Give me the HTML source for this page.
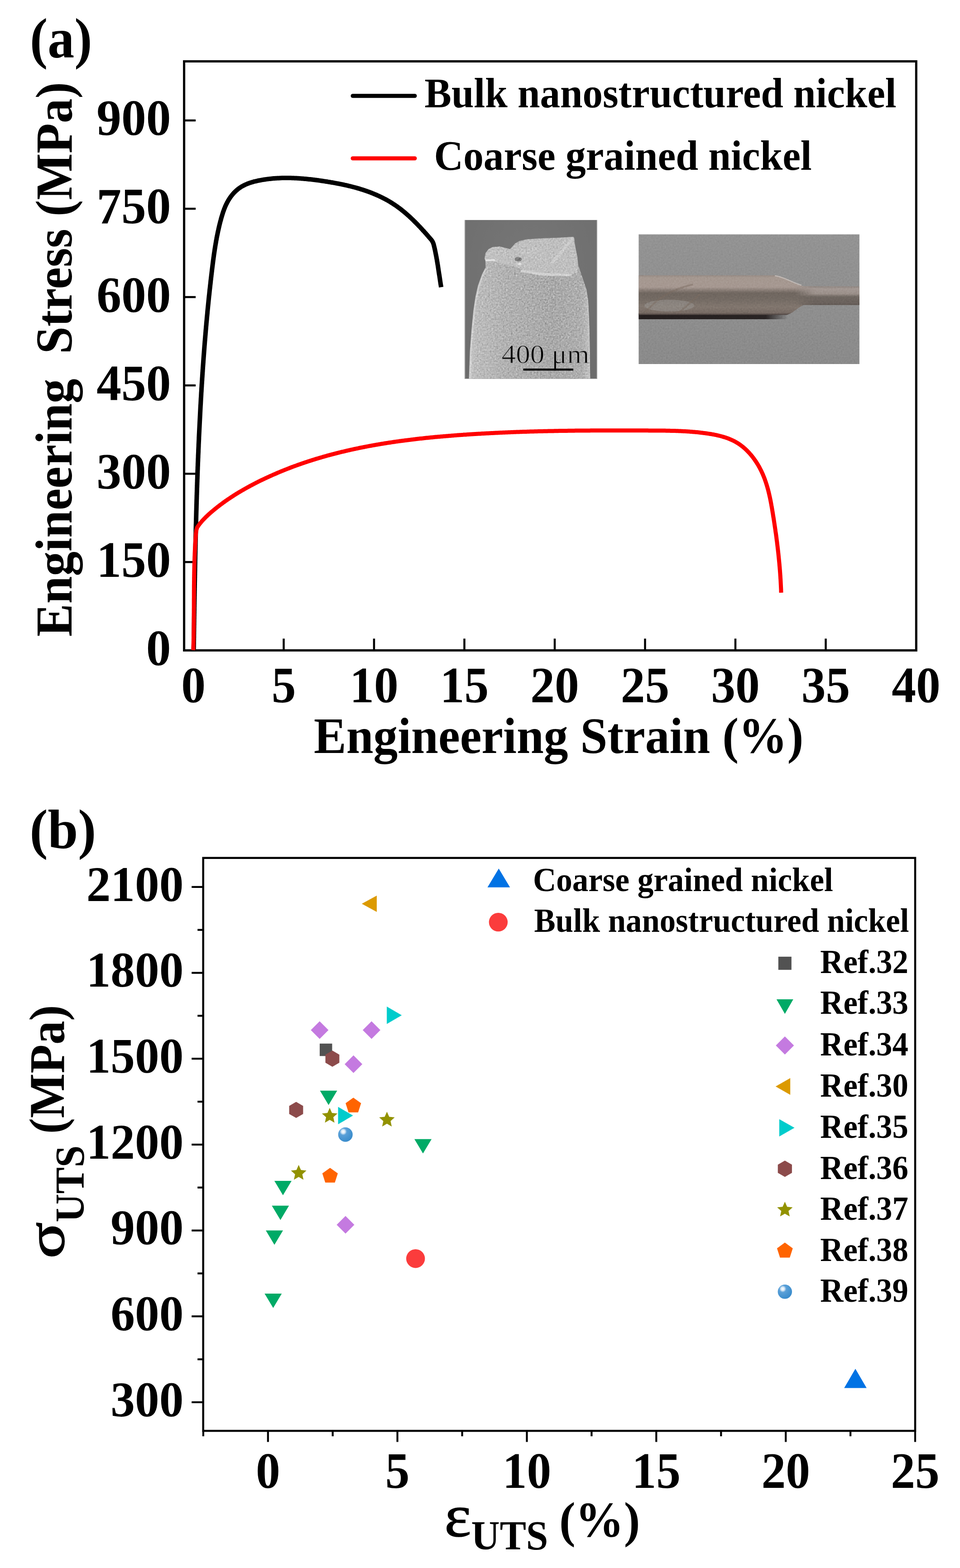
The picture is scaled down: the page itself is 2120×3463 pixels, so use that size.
<!DOCTYPE html>
<html><head><meta charset="utf-8"><title>Stress-strain of nanostructured nickel</title>
<style>html,body{margin:0;padding:0;background:#fff;}svg{display:block;}text{font-family:'Liberation Serif','Times New Roman',serif;}</style>
</head><body>
<svg width="2120" height="3463" viewBox="0 0 2120 3463">
<rect width="2120" height="3463" fill="#fff"/>
<text transform="translate(66.10,126.90) scale(0.95,1)" font-size="124" font-weight="bold" fill="#000">(a)</text>
<defs>
<linearGradient id="semBody" x1="0" y1="0" x2="1" y2="0">
<stop offset="0" stop-color="#cacaca"/><stop offset="0.05" stop-color="#bdbdbd"/><stop offset="0.3" stop-color="#b2b2b2"/><stop offset="0.7" stop-color="#a9a9a9"/><stop offset="0.93" stop-color="#afafaf"/><stop offset="1" stop-color="#c2c2c2"/>
</linearGradient>
<filter id="noise" x="0" y="0" width="1" height="1" filterUnits="objectBoundingBox" color-interpolation-filters="sRGB">
<feTurbulence type="fractalNoise" baseFrequency="0.28" numOctaves="2" seed="7" result="t"/>
<feColorMatrix in="t" type="matrix" values="0.33 0.33 0.33 0 0  0.33 0.33 0.33 0 0  0.33 0.33 0.33 0 0  0 0 0 0 1" result="g"/>
<feComponentTransfer in="g"><feFuncR type="linear" slope="2.2" intercept="-0.6"/><feFuncG type="linear" slope="2.2" intercept="-0.6"/><feFuncB type="linear" slope="2.2" intercept="-0.6"/></feComponentTransfer>
</filter>
<radialGradient id="semBg" cx="0.5" cy="0.3" r="0.8">
<stop offset="0" stop-color="#777777"/><stop offset="1" stop-color="#6c6c6c"/>
</radialGradient>
<linearGradient id="photoBg" x1="0" y1="0" x2="0" y2="1">
<stop offset="0" stop-color="#939393"/><stop offset="0.5" stop-color="#8f8f8f"/><stop offset="1" stop-color="#8a8a8a"/>
</linearGradient>
<linearGradient id="rodThick" gradientUnits="userSpaceOnUse" x1="0" y1="607.9" x2="0" y2="695.4">
<stop offset="0" stop-color="#968a83"/><stop offset="0.06" stop-color="#a59890"/><stop offset="0.3" stop-color="#a69891"/><stop offset="0.37" stop-color="#8b7f78"/><stop offset="0.45" stop-color="#6f665f"/><stop offset="0.6" stop-color="#736a63"/><stop offset="0.8" stop-color="#81766e"/><stop offset="0.95" stop-color="#776b64"/><stop offset="1" stop-color="#4a403d"/>
</linearGradient>
<linearGradient id="rodThin" gradientUnits="userSpaceOnUse" x1="0" y1="632.7" x2="0" y2="673.5">
<stop offset="0" stop-color="#8d847f"/><stop offset="0.12" stop-color="#a39893"/><stop offset="0.4" stop-color="#9b908a"/><stop offset="0.55" stop-color="#6f6761"/><stop offset="0.9" stop-color="#6a615c"/><stop offset="1" stop-color="#5e5651"/>
</linearGradient>
<linearGradient id="thinFade" gradientUnits="userSpaceOnUse" x1="1755" y1="0" x2="1800" y2="0">
<stop offset="0" stop-color="#fff" stop-opacity="0"/><stop offset="1" stop-color="#fff" stop-opacity="1"/>
</linearGradient>
<mask id="thinMask" maskUnits="userSpaceOnUse" x="1740" y="620" width="170" height="70"><rect x="1740" y="620" width="170" height="70" fill="url(#thinFade)"/></mask>
<linearGradient id="shadowG" x1="0" y1="0" x2="1" y2="0">
<stop offset="0" stop-color="#1e1818" stop-opacity="0.95"/><stop offset="0.85" stop-color="#1e1818" stop-opacity="0.9"/><stop offset="1" stop-color="#1e1818" stop-opacity="0"/>
</linearGradient>
<radialGradient id="sphere" cx="0.35" cy="0.3" r="0.7">
<stop offset="0" stop-color="#ffffff"/><stop offset="0.18" stop-color="#d8e8f6"/><stop offset="0.35" stop-color="#5aa0d8"/><stop offset="1" stop-color="#3a8ccc"/>
</radialGradient>
</defs>
<rect x="1025.9" y="485.9" width="293.1" height="350.6" fill="url(#semBg)"/>
<path d="M1036.1,836.5 L1038.3,775.7 L1041.7,730.6 L1046.2,685.5 L1050.7,656.2 L1056.4,631.4 L1065.4,606.6 L1072.2,593 L1072.2,577.2 L1069.9,570.5 L1072.2,559.2 L1078.9,550.2 L1087.9,545.7 L1103.7,544.6 L1112.7,546.8 L1126.3,550.2 L1133,545.7 L1137.5,537.8 L1146.6,532.2 L1162.3,528.8 L1180.4,527.2 L1202.9,525.8 L1225.5,525.4 L1248,524.3 L1266.1,523.1 L1268.3,525.4 L1270.6,545.7 L1275.1,568.2 L1277.3,586.3 L1284.1,606.6 L1290.9,626.9 L1295.4,640.4 L1298.8,662.9 L1301,708 L1302.1,753.1 L1303.3,836.5 Z" fill="url(#semBody)"/>
<path d="M1072,575 L1072.2,559.2 L1078.9,550.2 L1087.9,545.7 L1103.7,544.6 L1126.3,550.2 L1137.5,537.8 L1162.3,528.8 L1225.5,525.4 L1266.1,523.1 L1270.6,545.7 L1275.1,568.2 L1277,600 L1262,607 L1210,605 L1160,598 L1135,588 L1100,580 Z" fill="#c3c3c3" opacity="0.85"/>
<path d="M1264,524 L1268,527 L1222,582 L1215,580 Z" fill="#d2d2d2" opacity="0.75"/>
<path d="M1150,596 L1200,603 L1262,605 L1262,610 L1200,609 L1150,601 Z" fill="#d8d8d8" opacity="0.85"/>
<path d="M1140,560 L1180,545 L1200,548 L1170,565 Z" fill="#c4c4c4" opacity="0.6"/>
<ellipse cx="1144.5" cy="572.5" rx="8" ry="5" fill="#7c7c7c"/>
<ellipse cx="1147" cy="583" rx="5" ry="2" fill="#e6e6e6"/>
<path d="M1072,573 L1092,572.5 L1095,576 L1072,577 Z" fill="#e4e4e4"/>
<path d="M1037.5,836 L1039.6,775.7 L1043,730.6 L1047.4,685.5 L1051.8,656.2 L1057.4,631.4 L1066.3,606.6 L1073.2,593" fill="none" stroke="#d4d4d4" stroke-width="4" opacity="0.8"/>
<path d="M1301.8,836 L1300.8,753.1 L1299.6,708 L1297.4,662.9" fill="none" stroke="#c8c8c8" stroke-width="3" opacity="0.7"/>
<clipPath id="semClip"><path d="M1036.1,836.5 L1038.3,775.7 L1041.7,730.6 L1046.2,685.5 L1050.7,656.2 L1056.4,631.4 L1065.4,606.6 L1072.2,593 L1072.2,577.2 L1069.9,570.5 L1072.2,559.2 L1078.9,550.2 L1087.9,545.7 L1103.7,544.6 L1112.7,546.8 L1126.3,550.2 L1133,545.7 L1137.5,537.8 L1146.6,532.2 L1162.3,528.8 L1180.4,527.2 L1202.9,525.8 L1225.5,525.4 L1248,524.3 L1266.1,523.1 L1268.3,525.4 L1270.6,545.7 L1275.1,568.2 L1277.3,586.3 L1284.1,606.6 L1290.9,626.9 L1295.4,640.4 L1298.8,662.9 L1301,708 L1302.1,753.1 L1303.3,836.5 Z"/></clipPath>
<rect x="1030" y="515" width="280" height="325" filter="url(#noise)" clip-path="url(#semClip)" opacity="0.42" style="mix-blend-mode:overlay"/>
<line x1="1026.8" y1="486" x2="1026.8" y2="836.5" stroke="#a4a4a4" stroke-width="1.6"/><line x1="1318.2" y1="486" x2="1318.2" y2="836.5" stroke="#a4a4a4" stroke-width="1.6"/>
<text transform="translate(1107.50,801.60) scale(1.08,1)" font-size="58.6" font-weight="normal" fill="#000" stroke="#adadad" stroke-width="1.3">400 μm</text>
<line x1="1155.6" y1="816.3" x2="1266" y2="816.3" stroke="#000" stroke-width="4.5"/>
<rect x="1410.4" y="517.6" width="487.5" height="286.4" fill="url(#photoBg)"/>
<rect x="1410.4" y="692" width="330" height="13" fill="url(#shadowG)"/>
<path d="M1410.4,607.9 L1711,607.9 C1735,610 1755,628 1775,632 L1897.9,632.7 L1897.9,673.5 L1775,673.5 C1760,680 1750,693 1737,695.4 L1410.4,695.4 Z" fill="url(#rodThick)"/>
<path d="M1750,632.2 L1897.9,632.7 L1897.9,673.5 L1750,673.5 Z" fill="url(#rodThin)" mask="url(#thinMask)"/>
<path d="M1711,609 C1730,611 1745,622 1770,630" stroke="#c8c2be" stroke-width="2.5" fill="none" opacity="0.8"/>
<ellipse cx="1478" cy="675" rx="55" ry="13" fill="#98938f" opacity="0.55"/>
<path d="M1425,690 C1450,660 1480,640 1530,628 M1500,690 C1520,672 1535,660 1545,650" stroke="#7a6a60" stroke-width="4" fill="none" opacity="0.45"/>
<rect x="1410.4" y="517.6" width="487.5" height="286.4" filter="url(#noise)" opacity="0.07" style="mix-blend-mode:overlay"/>
<rect x="406.6" y="135.5" width="1616.7" height="1300.9" fill="none" stroke="#000" stroke-width="5"/>
<line x1="406.6" y1="1241.3" x2="432.1" y2="1241.3" stroke="#000" stroke-width="4.5"/>
<line x1="406.6" y1="1046.3" x2="432.1" y2="1046.3" stroke="#000" stroke-width="4.5"/>
<line x1="406.6" y1="851.2" x2="432.1" y2="851.2" stroke="#000" stroke-width="4.5"/>
<line x1="406.6" y1="656.1" x2="432.1" y2="656.1" stroke="#000" stroke-width="4.5"/>
<line x1="406.6" y1="461.0" x2="432.1" y2="461.0" stroke="#000" stroke-width="4.5"/>
<line x1="406.6" y1="266.0" x2="432.1" y2="266.0" stroke="#000" stroke-width="4.5"/>
<text transform="translate(377.40,1468.80) scale(0.977,1)" font-size="112" font-weight="bold" text-anchor="end" fill="#000">0</text>
<text transform="translate(377.40,1273.73) scale(0.977,1)" font-size="112" font-weight="bold" text-anchor="end" fill="#000">150</text>
<text transform="translate(377.40,1078.66) scale(0.977,1)" font-size="112" font-weight="bold" text-anchor="end" fill="#000">300</text>
<text transform="translate(377.40,883.59) scale(0.977,1)" font-size="112" font-weight="bold" text-anchor="end" fill="#000">450</text>
<text transform="translate(377.40,688.52) scale(0.977,1)" font-size="112" font-weight="bold" text-anchor="end" fill="#000">600</text>
<text transform="translate(377.40,493.45) scale(0.977,1)" font-size="112" font-weight="bold" text-anchor="end" fill="#000">750</text>
<text transform="translate(377.40,298.38) scale(0.977,1)" font-size="112" font-weight="bold" text-anchor="end" fill="#000">900</text>
<text transform="translate(427.00,1550.70) scale(0.96,1)" font-size="112" font-weight="bold" text-anchor="middle" fill="#000">0</text>
<line x1="626.5" y1="1436.4" x2="626.5" y2="1410.4" stroke="#000" stroke-width="4.5"/>
<text transform="translate(626.50,1550.70) scale(0.96,1)" font-size="112" font-weight="bold" text-anchor="middle" fill="#000">5</text>
<line x1="826.0" y1="1436.4" x2="826.0" y2="1410.4" stroke="#000" stroke-width="4.5"/>
<text transform="translate(826.00,1550.70) scale(0.96,1)" font-size="112" font-weight="bold" text-anchor="middle" fill="#000">10</text>
<line x1="1025.5" y1="1436.4" x2="1025.5" y2="1410.4" stroke="#000" stroke-width="4.5"/>
<text transform="translate(1025.50,1550.70) scale(0.96,1)" font-size="112" font-weight="bold" text-anchor="middle" fill="#000">15</text>
<line x1="1225.0" y1="1436.4" x2="1225.0" y2="1410.4" stroke="#000" stroke-width="4.5"/>
<text transform="translate(1225.00,1550.70) scale(0.96,1)" font-size="112" font-weight="bold" text-anchor="middle" fill="#000">20</text>
<line x1="1424.5" y1="1436.4" x2="1424.5" y2="1410.4" stroke="#000" stroke-width="4.5"/>
<text transform="translate(1424.50,1550.70) scale(0.96,1)" font-size="112" font-weight="bold" text-anchor="middle" fill="#000">25</text>
<line x1="1624.0" y1="1436.4" x2="1624.0" y2="1410.4" stroke="#000" stroke-width="4.5"/>
<text transform="translate(1624.00,1550.70) scale(0.96,1)" font-size="112" font-weight="bold" text-anchor="middle" fill="#000">30</text>
<line x1="1823.5" y1="1436.4" x2="1823.5" y2="1410.4" stroke="#000" stroke-width="4.5"/>
<text transform="translate(1823.50,1550.70) scale(0.96,1)" font-size="112" font-weight="bold" text-anchor="middle" fill="#000">35</text>
<text transform="translate(2023.00,1550.70) scale(0.96,1)" font-size="112" font-weight="bold" text-anchor="middle" fill="#000">40</text>
<text transform="translate(692.90,1662.50) scale(0.9493,1)" font-size="113.3" font-weight="bold" fill="#000">Engineering Strain (%)</text>
<text transform="translate(157.50,1405.90) rotate(-90) scale(0.95,1)" font-size="114.8" font-weight="bold" fill="#000" style="white-space:pre">Engineering  Stress (MPa)</text>
<line x1="779" y1="211.7" x2="916" y2="211.7" stroke="#000" stroke-width="9" stroke-linecap="round"/>
<line x1="779" y1="349.7" x2="916" y2="349.7" stroke="#ff0000" stroke-width="9" stroke-linecap="round"/>
<text transform="translate(937.60,236.70) scale(0.952,1)" font-size="93.5" font-weight="bold" fill="#000">Bulk nanostructured nickel</text>
<text transform="translate(958.60,375.00) scale(0.956,1)" font-size="93.5" font-weight="bold" fill="#000">Coarse grained nickel</text>
<path d="M427.8,1436.0 L427.8,1434.0 L427.8,1432.0 L427.8,1430.0 L427.9,1428.0 L427.9,1426.0 L427.9,1424.0 L428.0,1422.0 L428.0,1420.0 L428.0,1418.0 L428.0,1416.0 L428.1,1414.0 L428.1,1412.0 L428.1,1409.9 L428.2,1407.9 L428.2,1405.9 L428.2,1403.9 L428.2,1401.9 L428.3,1399.9 L428.3,1397.9 L428.3,1395.9 L428.4,1393.9 L428.4,1391.9 L428.4,1389.9 L428.4,1387.9 L428.5,1385.9 L428.5,1383.9 L428.5,1381.9 L428.6,1379.9 L428.6,1377.8 L428.6,1375.8 L428.7,1373.8 L428.7,1371.8 L428.7,1369.8 L428.7,1367.8 L428.8,1365.8 L428.8,1363.8 L428.8,1361.8 L428.9,1359.8 L428.9,1357.8 L428.9,1355.8 L429.0,1353.8 L429.0,1351.8 L429.0,1349.8 L429.1,1347.8 L429.1,1345.8 L429.1,1343.8 L429.1,1341.7 L429.2,1339.7 L429.2,1337.7 L429.2,1335.7 L429.3,1333.7 L429.3,1331.7 L429.3,1329.7 L429.4,1327.7 L429.4,1325.7 L429.4,1323.7 L429.5,1321.7 L429.5,1319.7 L429.5,1317.7 L429.6,1315.7 L429.6,1313.7 L429.6,1311.7 L429.7,1309.7 L429.7,1307.7 L429.7,1305.7 L429.8,1303.7 L429.8,1301.6 L429.8,1299.6 L429.9,1297.6 L429.9,1295.6 L429.9,1293.6 L430.0,1291.6 L430.0,1289.6 L430.0,1287.6 L430.1,1285.6 L430.1,1283.6 L430.2,1281.6 L430.2,1279.6 L430.2,1277.6 L430.3,1275.6 L430.3,1273.6 L430.3,1271.6 L430.4,1269.6 L430.4,1267.6 L430.4,1265.6 L430.5,1263.6 L430.5,1261.6 L430.6,1259.5 L430.6,1257.5 L430.6,1255.5 L430.7,1253.5 L430.7,1251.5 L430.7,1249.5 L430.8,1247.5 L430.8,1245.5 L430.9,1243.5 L430.9,1241.5 L430.9,1239.5 L431.0,1237.5 L431.0,1235.5 L431.1,1233.5 L431.1,1231.5 L431.1,1229.5 L431.2,1227.5 L431.2,1225.5 L431.3,1223.5 L431.3,1221.5 L431.4,1219.5 L431.4,1217.5 L431.4,1215.5 L431.5,1213.4 L431.5,1211.4 L431.6,1209.4 L431.6,1207.4 L431.7,1205.4 L431.7,1203.4 L431.7,1201.4 L431.8,1199.4 L431.8,1197.4 L431.9,1195.4 L431.9,1193.4 L432.0,1191.4 L432.0,1189.4 L432.1,1187.4 L432.1,1185.4 L432.2,1183.4 L432.2,1181.4 L432.3,1179.4 L432.3,1177.4 L432.4,1175.4 L432.4,1173.4 L432.4,1171.4 L432.5,1169.4 L432.5,1167.4 L432.6,1165.4 L432.6,1163.3 L432.7,1161.3 L432.7,1159.3 L432.8,1157.3 L432.9,1155.3 L432.9,1153.3 L433.0,1151.3 L433.0,1149.3 L433.1,1147.3 L433.1,1145.3 L433.2,1143.3 L433.2,1141.3 L433.3,1139.3 L433.3,1137.3 L433.4,1135.3 L433.4,1133.3 L433.5,1131.3 L433.5,1129.3 L433.6,1127.3 L433.7,1125.3 L433.7,1123.3 L433.8,1121.3 L433.8,1119.3 L433.9,1117.3 L433.9,1115.3 L434.0,1113.3 L434.1,1111.2 L434.1,1109.2 L434.2,1107.2 L434.2,1105.2 L434.3,1103.2 L434.4,1101.2 L434.4,1099.2 L434.5,1097.2 L434.5,1095.2 L434.6,1093.2 L434.7,1091.2 L434.7,1089.2 L434.8,1087.2 L434.9,1085.2 L434.9,1083.2 L435.0,1081.2 L435.0,1079.2 L435.1,1077.2 L435.2,1075.2 L435.2,1073.2 L435.3,1071.2 L435.4,1069.2 L435.4,1067.2 L435.5,1065.2 L435.6,1063.2 L435.6,1061.2 L435.7,1059.2 L435.8,1057.2 L435.9,1055.1 L435.9,1053.1 L436.0,1051.1 L436.1,1049.1 L436.1,1047.1 L436.2,1045.1 L436.3,1043.1 L436.3,1041.1 L436.4,1039.1 L436.5,1037.1 L436.6,1035.1 L436.6,1033.1 L436.7,1031.1 L436.8,1029.1 L436.9,1027.1 L436.9,1025.1 L437.0,1023.1 L437.1,1021.1 L437.2,1019.1 L437.3,1017.1 L437.3,1015.1 L437.4,1013.1 L437.5,1011.1 L437.6,1009.1 L437.6,1007.1 L437.7,1005.1 L437.8,1003.1 L437.9,1001.1 L438.0,999.1 L438.1,997.0 L438.1,995.0 L438.2,993.0 L438.3,991.0 L438.4,989.0 L438.5,987.0 L438.6,985.0 L438.6,983.0 L438.7,981.0 L438.8,979.0 L438.9,977.0 L439.0,975.0 L439.1,973.0 L439.2,971.0 L439.3,969.0 L439.3,967.0 L439.4,965.0 L439.5,963.0 L439.6,961.0 L439.7,959.0 L439.8,957.0 L439.9,955.0 L440.0,953.0 L440.1,951.0 L440.2,949.0 L440.3,947.0 L440.4,945.0 L440.5,943.0 L440.6,940.9 L440.7,938.9 L440.8,936.9 L440.9,934.9 L441.0,932.9 L441.1,930.9 L441.2,928.9 L441.3,926.9 L441.4,924.9 L441.5,922.9 L441.6,920.9 L441.7,918.9 L441.8,916.9 L441.9,914.9 L442.0,912.9 L442.1,910.9 L442.2,908.9 L442.3,906.9 L442.4,904.9 L442.5,902.9 L442.6,900.9 L442.7,898.9 L442.8,896.9 L442.9,894.9 L443.1,892.9 L443.2,890.9 L443.3,888.9 L443.4,886.9 L443.5,884.9 L443.6,882.8 L443.7,880.8 L443.8,878.8 L444.0,876.8 L444.1,874.8 L444.2,872.8 L444.3,870.8 L444.4,868.8 L444.5,866.8 L444.7,864.8 L444.8,862.8 L444.9,860.8 L445.0,858.8 L445.1,856.8 L445.3,854.8 L445.4,852.8 L445.5,850.8 L445.6,848.8 L445.8,846.8 L445.9,844.8 L446.0,842.8 L446.2,840.8 L446.3,838.8 L446.4,836.8 L446.5,834.8 L446.7,832.8 L446.8,830.8 L446.9,828.8 L447.1,826.8 L447.2,824.8 L447.3,822.8 L447.5,820.8 L447.6,818.8 L447.7,816.8 L447.9,814.8 L448.0,812.8 L448.1,810.8 L448.3,808.8 L448.4,806.8 L448.6,804.8 L448.7,802.8 L448.9,800.8 L449.0,798.8 L449.1,796.8 L449.3,794.8 L449.4,792.8 L449.6,790.8 L449.7,788.8 L449.9,786.8 L450.0,784.8 L450.2,782.8 L450.3,780.8 L450.5,778.8 L450.6,776.8 L450.8,774.8 L450.9,772.8 L451.1,770.8 L451.2,768.8 L451.4,766.8 L451.5,764.8 L451.7,762.8 L451.9,760.8 L452.0,758.8 L452.2,756.8 L452.3,754.8 L452.5,752.8 L452.7,750.8 L452.8,748.8 L453.0,746.8 L453.2,744.8 L453.3,742.8 L453.5,740.8 L453.7,738.8 L453.8,736.8 L454.0,734.8 L454.2,732.8 L454.3,730.8 L454.5,728.8 L454.7,726.8 L454.9,724.8 L455.0,722.8 L455.2,720.8 L455.4,718.8 L455.6,716.8 L455.7,714.8 L455.9,712.8 L456.1,710.8 L456.3,708.8 L456.5,706.8 L456.7,704.9 L456.8,702.9 L457.0,700.9 L457.2,698.9 L457.4,696.9 L457.6,694.9 L457.8,692.9 L458.0,690.9 L458.1,688.9 L458.3,686.9 L458.5,684.9 L458.7,682.9 L458.9,680.9 L459.1,678.9 L459.3,676.9 L459.5,674.9 L459.7,673.0 L459.9,671.0 L460.1,669.0 L460.3,667.0 L460.5,665.0 L460.7,663.0 L460.9,661.0 L461.1,659.0 L461.3,657.0 L461.5,655.0 L461.7,653.0 L462.0,651.1 L462.2,649.1 L462.4,647.1 L462.6,645.1 L462.8,643.1 L463.0,641.1 L463.2,639.1 L463.5,637.1 L463.7,635.1 L463.9,633.2 L464.1,631.2 L464.3,629.2 L464.6,627.2 L464.8,625.2 L465.0,623.2 L465.2,621.2 L465.4,619.2 L465.7,617.3 L465.9,615.3 L466.1,613.3 L466.4,611.3 L466.6,609.3 L466.8,607.3 L467.1,605.3 L467.3,603.4 L467.5,601.4 L467.8,599.4 L468.0,597.4 L468.2,595.4 L468.5,593.4 L468.7,591.5 L469.0,589.5 L469.2,587.5 L469.5,585.5 L469.7,583.5 L470.0,581.5 L470.2,579.6 L470.5,577.6 L470.7,575.6 L471.0,573.6 L471.3,571.6 L471.5,569.6 L471.8,567.7 L472.1,565.7 L472.3,563.7 L472.6,561.7 L472.9,559.7 L473.2,557.8 L473.5,555.8 L473.8,553.8 L474.1,551.8 L474.4,549.8 L474.7,547.9 L475.0,545.9 L475.3,543.9 L475.6,541.9 L476.0,539.9 L476.3,538.0 L476.7,536.0 L477.0,534.0 L477.3,532.0 L477.7,530.0 L478.1,528.1 L478.4,526.1 L478.8,524.1 L479.2,522.1 L479.6,520.1 L480.0,518.2 L480.4,516.2 L480.8,514.2 L481.2,512.2 L481.6,510.2 L482.1,508.3 L482.5,506.3 L483.0,504.3 L483.4,502.3 L483.9,500.3 L484.3,498.4 L484.8,496.4 L485.3,494.4 L485.8,492.4 L486.3,490.4 L486.8,488.4 L487.4,486.5 L487.9,484.5 L488.4,482.5 L489.0,480.5 L489.6,478.5 L490.2,476.6 L490.8,474.6 L491.4,472.6 L492.0,470.7 L492.6,468.7 L493.3,466.8 L494.0,464.9 L494.7,462.9 L495.4,461.0 L496.2,459.1 L496.9,457.3 L497.7,455.4 L498.5,453.6 L499.4,451.7 L500.3,449.9 L501.2,448.1 L502.1,446.4 L503.1,444.6 L504.0,442.9 L505.1,441.2 L506.1,439.5 L507.2,437.9 L508.3,436.2 L509.5,434.6 L510.6,433.1 L511.8,431.5 L513.1,430.0 L514.3,428.5 L515.6,427.1 L516.9,425.6 L518.3,424.2 L519.6,422.9 L521.0,421.6 L522.5,420.3 L523.9,419.0 L525.4,417.8 L527.0,416.6 L528.5,415.5 L530.1,414.4 L531.7,413.3 L533.3,412.3 L535.0,411.3 L536.7,410.4 L538.4,409.5 L540.1,408.6 L541.9,407.8 L543.7,407.0 L545.5,406.2 L547.3,405.5 L549.1,404.8 L551.0,404.1 L552.9,403.5 L554.8,402.9 L556.7,402.3 L558.6,401.8 L560.5,401.2 L562.5,400.7 L564.4,400.3 L566.4,399.8 L568.4,399.4 L570.3,398.9 L572.3,398.5 L574.3,398.2 L576.3,397.8 L578.3,397.4 L580.3,397.1 L582.2,396.8 L584.2,396.5 L586.2,396.2 L588.2,395.9 L590.2,395.6 L592.2,395.4 L594.2,395.1 L596.2,394.9 L598.2,394.7 L600.2,394.5 L602.2,394.3 L604.2,394.1 L606.2,394.0 L608.3,393.8 L610.3,393.7 L612.3,393.6 L614.3,393.5 L616.3,393.4 L618.3,393.3 L620.3,393.2 L622.3,393.1 L624.3,393.1 L626.4,393.0 L628.4,393.0 L630.4,393.0 L632.4,393.0 L634.4,393.0 L636.4,393.0 L638.5,393.0 L640.5,393.1 L642.5,393.1 L644.5,393.2 L646.5,393.2 L648.5,393.3 L650.6,393.4 L652.6,393.5 L654.6,393.6 L656.6,393.7 L658.6,393.8 L660.7,393.9 L662.7,394.1 L664.7,394.2 L666.7,394.4 L668.7,394.5 L670.7,394.7 L672.8,394.9 L674.8,395.1 L676.8,395.3 L678.8,395.5 L680.8,395.7 L682.8,395.9 L684.9,396.1 L686.9,396.3 L688.9,396.5 L690.9,396.8 L692.9,397.0 L694.9,397.3 L696.9,397.5 L698.9,397.8 L701.0,398.1 L703.0,398.3 L705.0,398.6 L707.0,398.9 L709.0,399.2 L711.0,399.5 L713.0,399.8 L715.0,400.1 L717.0,400.4 L719.0,400.7 L721.0,401.0 L723.0,401.3 L725.0,401.7 L727.0,402.0 L728.9,402.3 L730.9,402.7 L732.9,403.0 L734.9,403.3 L736.9,403.7 L738.9,404.1 L740.9,404.4 L742.8,404.8 L744.8,405.2 L746.8,405.5 L748.8,405.9 L750.7,406.3 L752.7,406.7 L754.7,407.1 L756.6,407.5 L758.6,407.9 L760.5,408.4 L762.5,408.8 L764.4,409.2 L766.4,409.7 L768.3,410.1 L770.3,410.6 L772.2,411.0 L774.2,411.5 L776.1,412.0 L778.0,412.5 L779.9,413.0 L781.9,413.5 L783.8,414.0 L785.7,414.5 L787.6,415.1 L789.5,415.6 L791.4,416.2 L793.3,416.7 L795.2,417.3 L797.1,417.9 L799.0,418.5 L800.9,419.1 L802.8,419.7 L804.6,420.3 L806.5,420.9 L808.4,421.6 L810.2,422.2 L812.1,422.9 L814.0,423.6 L815.8,424.2 L817.7,424.9 L819.5,425.6 L821.3,426.4 L823.2,427.1 L825.0,427.8 L826.8,428.6 L828.6,429.3 L830.4,430.1 L832.2,430.9 L834.0,431.7 L835.8,432.5 L837.6,433.3 L839.4,434.2 L841.2,435.0 L842.9,435.9 L844.7,436.8 L846.5,437.7 L848.2,438.6 L850.0,439.5 L851.7,440.4 L853.4,441.4 L855.2,442.3 L856.9,443.3 L858.6,444.3 L860.3,445.3 L862.0,446.3 L863.7,447.4 L865.4,448.4 L867.1,449.5 L868.8,450.6 L870.5,451.7 L872.1,452.8 L873.8,453.9 L875.4,455.0 L877.1,456.2 L878.7,457.4 L880.3,458.6 L882.0,459.8 L883.6,461.0 L885.2,462.2 L886.8,463.5 L888.4,464.8 L890.0,466.1 L891.5,467.3 L893.1,468.7 L894.7,470.0 L896.2,471.3 L897.8,472.7 L899.3,474.0 L900.9,475.4 L902.4,476.7 L903.9,478.1 L905.4,479.5 L906.9,480.9 L908.4,482.3 L909.9,483.8 L911.4,485.2 L912.9,486.6 L914.3,488.1 L915.8,489.5 L917.2,491.0 L918.7,492.4 L920.1,493.9 L921.5,495.3 L923.0,496.8 L924.4,498.3 L925.8,499.8 L927.2,501.2 L928.6,502.7 L929.9,504.2 L931.3,505.7 L932.7,507.2 L934.0,508.7 L935.4,510.1 L936.7,511.6 L938.0,513.1 L939.4,514.6 L940.7,516.1 L942.0,517.6 L943.3,519.0 L944.6,520.5 L945.9,522.0 L947.1,523.4 L948.4,524.9 L949.7,526.3 L950.9,527.8 L952.2,529.2 Q957.0,534.9 958.6,543.7 L958.6,543.7 L959.1,545.7 L959.6,547.7 L960.0,549.7 L960.5,551.7 L960.9,553.7 L961.3,555.7 L961.7,557.7 L962.1,559.7 L962.5,561.7 L962.9,563.7 L963.3,565.7 L963.7,567.7 L964.0,569.7 L964.4,571.7 L964.8,573.7 L965.1,575.7 L965.4,577.8 L965.8,579.8 L966.1,581.8 L966.4,583.8 L966.8,585.8 L967.1,587.8 L967.4,589.9 L967.7,591.9 L968.0,593.9 L968.3,595.9 L968.6,597.9 L968.9,600.0 L969.2,602.0 L969.5,604.0 L969.8,606.0 L970.2,608.1 L970.5,610.1 L970.8,612.1 L971.1,614.1 L971.4,616.1 L971.7,618.2 L972.0,620.2 L972.3,622.2 L972.6,624.2 L972.9,626.2 L973.2,628.2 L973.6,630.3 L973.9,632.3 L974.2,634.3" fill="none" stroke="#000" stroke-width="10" stroke-linejoin="round" stroke-linecap="butt"/>
<path d="M426.8,1436.0 L426.9,1434.0 L426.9,1431.9 L427.0,1429.9 L427.0,1427.9 L427.1,1425.9 L427.2,1423.8 L427.2,1421.8 L427.3,1419.8 L427.3,1417.8 L427.4,1415.7 L427.4,1413.7 L427.4,1411.7 L427.5,1409.7 L427.5,1407.6 L427.6,1405.6 L427.6,1403.6 L427.6,1401.6 L427.7,1399.5 L427.7,1397.5 L427.7,1395.5 L427.8,1393.4 L427.8,1391.4 L427.8,1389.4 L427.8,1387.4 L427.9,1385.3 L427.9,1383.3 L427.9,1381.3 L427.9,1379.3 L427.9,1377.2 L428.0,1375.2 L428.0,1373.2 L428.0,1371.1 L428.0,1369.1 L428.0,1367.1 L428.0,1365.1 L428.1,1363.0 L428.1,1361.0 L428.1,1359.0 L428.1,1356.9 L428.1,1354.9 L428.1,1352.9 L428.1,1350.9 L428.1,1348.8 L428.1,1346.8 L428.1,1344.8 L428.2,1342.7 L428.2,1340.7 L428.2,1338.7 L428.2,1336.7 L428.2,1334.6 L428.2,1332.6 L428.2,1330.6 L428.2,1328.6 L428.2,1326.5 L428.2,1324.5 L428.2,1322.5 L428.3,1320.4 L428.3,1318.4 L428.3,1316.4 L428.3,1314.4 L428.3,1312.3 L428.3,1310.3 L428.3,1308.3 L428.3,1306.2 L428.3,1304.2 L428.4,1302.2 L428.4,1300.2 L428.4,1298.1 L428.4,1296.1 L428.4,1294.1 L428.4,1292.0 L428.5,1290.0 L428.5,1288.0 L428.5,1286.0 L428.5,1283.9 L428.6,1281.9 L428.6,1279.9 L428.6,1277.8 L428.6,1275.8 L428.7,1273.8 L428.7,1271.8 L428.7,1269.7 L428.8,1267.7 L428.8,1265.7 L428.8,1263.7 L428.9,1261.6 L428.9,1259.6 L429.0,1257.6 L429.0,1255.6 L429.1,1253.5 L429.1,1251.5 L429.2,1249.5 L429.2,1247.4 L429.3,1245.4 L429.3,1243.4 L429.4,1241.4 L429.5,1239.3 L429.5,1237.3 L429.6,1235.3 L429.7,1233.3 L429.7,1231.2 L429.8,1229.2 L429.9,1227.2 L430.0,1225.2 L430.0,1223.1 L430.1,1221.1 L430.2,1219.1 L430.3,1217.1 L430.4,1215.0 L430.5,1213.0 L430.6,1211.0 L430.7,1209.0 L430.8,1207.0 L430.9,1204.9 L431.0,1202.9 L431.1,1200.9 L431.3,1198.9 L431.4,1196.8 L431.5,1194.8 L431.6,1192.8 L431.8,1190.8 L431.9,1188.7 L432.0,1186.7 L432.2,1184.7 L432.3,1182.7 L432.5,1180.7 L432.6,1178.6 L432.8,1176.6 L433.0,1174.6 Q433.3,1170.6 435.5,1164.8 L435.5,1164.8 L436.6,1163.2 L437.7,1161.6 L438.8,1160.0 L440.0,1158.5 L441.1,1156.9 L442.4,1155.4 L443.6,1153.9 L444.9,1152.4 L446.1,1150.9 L447.4,1149.4 L448.8,1148.0 L450.1,1146.6 L451.5,1145.1 L452.9,1143.7 L454.3,1142.3 L455.7,1140.9 L457.1,1139.6 L458.6,1138.2 L460.0,1136.8 L461.5,1135.5 L463.0,1134.2 L464.5,1132.8 L466.0,1131.5 L467.5,1130.2 L469.1,1128.9 L470.6,1127.6 L472.1,1126.4 L473.7,1125.1 L475.2,1123.8 L476.8,1122.6 L478.3,1121.3 L479.9,1120.1 L481.5,1118.8 L483.1,1117.6 L484.7,1116.4 L486.3,1115.2 L487.9,1114.0 L489.5,1112.8 L491.1,1111.6 L492.7,1110.4 L494.3,1109.2 L496.0,1108.1 L497.6,1106.9 L499.2,1105.7 L500.9,1104.6 L502.5,1103.5 L504.2,1102.3 L505.9,1101.2 L507.5,1100.1 L509.2,1099.0 L510.9,1097.9 L512.6,1096.8 L514.2,1095.7 L515.9,1094.6 L517.6,1093.5 L519.3,1092.4 L521.0,1091.4 L522.7,1090.3 L524.5,1089.3 L526.2,1088.2 L527.9,1087.2 L529.6,1086.1 L531.3,1085.1 L533.1,1084.1 L534.8,1083.1 L536.6,1082.1 L538.3,1081.1 L540.0,1080.1 L541.8,1079.1 L543.6,1078.1 L545.3,1077.1 L547.1,1076.1 L548.8,1075.2 L550.6,1074.2 L552.4,1073.2 L554.2,1072.3 L555.9,1071.4 L557.7,1070.4 L559.5,1069.5 L561.3,1068.6 L563.1,1067.6 L564.9,1066.7 L566.6,1065.8 L568.4,1064.9 L570.2,1064.0 L572.0,1063.1 L573.8,1062.2 L575.6,1061.3 L577.5,1060.4 L579.3,1059.6 L581.1,1058.7 L582.9,1057.8 L584.7,1057.0 L586.5,1056.1 L588.3,1055.3 L590.1,1054.4 L592.0,1053.6 L593.8,1052.8 L595.6,1051.9 L597.4,1051.1 L599.3,1050.3 L601.1,1049.5 L602.9,1048.7 L604.8,1047.9 L606.6,1047.1 L608.4,1046.3 L610.3,1045.5 L612.1,1044.7 L613.9,1043.9 L615.8,1043.1 L617.6,1042.4 L619.5,1041.6 L621.3,1040.8 L623.2,1040.1 L625.0,1039.3 L626.9,1038.6 L628.7,1037.8 L630.6,1037.1 L632.4,1036.4 L634.3,1035.6 L636.2,1034.9 L638.0,1034.2 L639.9,1033.5 L641.8,1032.7 L643.6,1032.0 L645.5,1031.3 L647.4,1030.6 L649.2,1029.9 L651.1,1029.3 L653.0,1028.6 L654.9,1027.9 L656.7,1027.2 L658.6,1026.5 L660.5,1025.9 L662.4,1025.2 L664.3,1024.6 L666.1,1023.9 L668.0,1023.3 L669.9,1022.6 L671.8,1022.0 L673.7,1021.3 L675.6,1020.7 L677.5,1020.1 L679.4,1019.4 L681.3,1018.8 L683.2,1018.2 L685.1,1017.6 L687.0,1017.0 L688.9,1016.4 L690.8,1015.8 L692.7,1015.2 L694.6,1014.6 L696.5,1014.0 L698.4,1013.4 L700.3,1012.8 L702.2,1012.3 L704.1,1011.7 L706.0,1011.1 L708.0,1010.6 L709.9,1010.0 L711.8,1009.5 L713.7,1008.9 L715.6,1008.4 L717.5,1007.8 L719.5,1007.3 L721.4,1006.7 L723.3,1006.2 L725.2,1005.7 L727.2,1005.1 L729.1,1004.6 L731.0,1004.1 L732.9,1003.6 L734.9,1003.1 L736.8,1002.6 L738.7,1002.1 L740.7,1001.6 L742.6,1001.1 L744.5,1000.6 L746.5,1000.1 L748.4,999.6 L750.4,999.1 L752.3,998.7 L754.2,998.2 L756.2,997.7 L758.1,997.3 L760.1,996.8 L762.0,996.3 L764.0,995.9 L765.9,995.4 L767.9,995.0 L769.8,994.5 L771.8,994.1 L773.7,993.6 L775.7,993.2 L777.6,992.8 L779.6,992.4 L781.5,991.9 L783.5,991.5 L785.4,991.1 L787.4,990.7 L789.4,990.3 L791.3,989.9 L793.3,989.4 L795.2,989.0 L797.2,988.6 L799.2,988.2 L801.1,987.9 L803.1,987.5 L805.1,987.1 L807.0,986.7 L809.0,986.3 L811.0,985.9 L812.9,985.6 L814.9,985.2 L816.9,984.8 L818.8,984.5 L820.8,984.1 L822.8,983.7 L824.8,983.4 L826.7,983.0 L828.7,982.7 L830.7,982.3 L832.7,982.0 L834.6,981.7 L836.6,981.3 L838.6,981.0 L840.6,980.6 L842.6,980.3 L844.5,980.0 L846.5,979.7 L848.5,979.3 L850.5,979.0 L852.5,978.7 L854.4,978.4 L856.4,978.1 L858.4,977.8 L860.4,977.5 L862.4,977.2 L864.4,976.9 L866.4,976.6 L868.3,976.3 L870.3,976.0 L872.3,975.7 L874.3,975.4 L876.3,975.1 L878.3,974.9 L880.3,974.6 L882.3,974.3 L884.3,974.0 L886.3,973.8 L888.3,973.5 L890.3,973.2 L892.2,973.0 L894.2,972.7 L896.2,972.4 L898.2,972.2 L900.2,971.9 L902.2,971.7 L904.2,971.4 L906.2,971.2 L908.2,970.9 L910.2,970.7 L912.2,970.5 L914.2,970.2 L916.2,970.0 L918.2,969.7 L920.2,969.5 L922.2,969.3 L924.2,969.1 L926.2,968.8 L928.2,968.6 L930.2,968.4 L932.2,968.2 L934.2,968.0 L936.2,967.7 L938.2,967.5 L940.2,967.3 L942.2,967.1 L944.2,966.9 L946.2,966.7 L948.2,966.5 L950.2,966.3 L952.2,966.1 L954.2,965.9 L956.2,965.7 L958.2,965.5 L960.3,965.3 L962.3,965.1 L964.3,965.0 L966.3,964.8 L968.3,964.6 L970.3,964.4 L972.3,964.2 L974.3,964.0 L976.3,963.9 L978.3,963.7 L980.3,963.5 L982.3,963.4 L984.3,963.2 L986.3,963.0 L988.3,962.9 L990.3,962.7 L992.3,962.5 L994.4,962.4 L996.4,962.2 L998.4,962.0 L1000.4,961.9 L1002.4,961.7 L1004.4,961.6 L1006.4,961.4 L1008.4,961.3 L1010.4,961.1 L1012.4,961.0 L1014.4,960.8 L1016.4,960.7 L1018.4,960.6 L1020.4,960.4 L1022.4,960.3 L1024.4,960.1 L1026.5,960.0 L1028.5,959.9 L1030.5,959.7 L1032.5,959.6 L1034.5,959.5 L1036.5,959.3 L1038.5,959.2 L1040.5,959.1 L1042.5,959.0 L1044.5,958.8 L1046.5,958.7 L1048.5,958.6 L1050.5,958.5 L1052.5,958.3 L1054.5,958.2 L1056.5,958.1 L1058.5,958.0 L1060.5,957.9 L1062.5,957.7 L1064.5,957.6 L1066.5,957.5 L1068.5,957.4 L1070.5,957.3 L1072.5,957.2 L1074.5,957.1 L1076.5,957.0 L1078.5,956.9 L1080.6,956.8 L1082.6,956.7 L1084.6,956.6 L1086.6,956.5 L1088.6,956.4 L1090.6,956.3 L1092.6,956.2 L1094.6,956.1 L1096.6,956.0 L1098.6,955.9 L1100.6,955.8 L1102.6,955.7 L1104.6,955.6 L1106.6,955.5 L1108.6,955.4 L1110.6,955.3 L1112.6,955.2 L1114.6,955.2 L1116.6,955.1 L1118.6,955.0 L1120.6,954.9 L1122.6,954.8 L1124.6,954.7 L1126.6,954.7 L1128.6,954.6 L1130.6,954.5 L1132.6,954.4 L1134.6,954.3 L1136.5,954.3 L1138.5,954.2 L1140.5,954.1 L1142.5,954.0 L1144.5,954.0 L1146.5,953.9 L1148.5,953.8 L1150.5,953.8 L1152.5,953.7 L1154.5,953.6 L1156.5,953.6 L1158.5,953.5 L1160.5,953.4 L1162.5,953.4 L1164.5,953.3 L1166.5,953.2 L1168.5,953.2 L1170.5,953.1 L1172.5,953.1 L1174.5,953.0 L1176.5,953.0 L1178.5,952.9 L1180.5,952.8 L1182.5,952.8 L1184.5,952.7 L1186.5,952.7 L1188.5,952.6 L1190.5,952.6 L1192.5,952.5 L1194.5,952.5 L1196.5,952.4 L1198.5,952.4 L1200.5,952.3 L1202.5,952.3 L1204.5,952.2 L1206.5,952.2 L1208.5,952.2 L1210.5,952.1 L1212.5,952.1 L1214.5,952.0 L1216.5,952.0 L1218.5,951.9 L1220.4,951.9 L1222.4,951.9 L1224.4,951.8 L1226.4,951.8 L1228.4,951.8 L1230.4,951.7 L1232.4,951.7 L1234.4,951.6 L1236.4,951.6 L1238.4,951.6 L1240.4,951.5 L1242.4,951.5 L1244.4,951.5 L1246.4,951.5 L1248.4,951.4 L1250.4,951.4 L1252.4,951.4 L1254.4,951.3 L1256.4,951.3 L1258.4,951.3 L1260.4,951.3 L1262.4,951.2 L1264.4,951.2 L1266.4,951.2 L1268.4,951.2 L1270.4,951.1 L1272.4,951.1 L1274.4,951.1 L1276.4,951.1 L1278.4,951.1 L1280.4,951.0 L1282.4,951.0 L1284.4,951.0 L1286.4,951.0 L1288.4,951.0 L1290.4,950.9 L1292.4,950.9 L1294.4,950.9 L1296.4,950.9 L1298.4,950.9 L1300.4,950.9 L1302.4,950.9 L1304.4,950.8 L1306.4,950.8 L1308.4,950.8 L1310.4,950.8 L1312.4,950.8 L1314.4,950.8 L1316.4,950.8 L1318.4,950.8 L1320.4,950.8 L1322.4,950.7 L1324.4,950.7 L1326.4,950.7 L1328.4,950.7 L1330.4,950.7 L1332.4,950.7 L1334.4,950.7 L1336.4,950.7 L1338.4,950.7 L1340.4,950.7 L1342.4,950.7 L1344.4,950.7 L1346.4,950.7 L1348.4,950.7 L1350.4,950.7 L1352.4,950.7 L1354.4,950.7 L1356.4,950.7 L1358.4,950.7 L1360.4,950.7 L1362.4,950.7 L1364.4,950.7 L1366.4,950.7 L1368.4,950.7 L1370.4,950.7 L1372.4,950.7 L1374.4,950.7 L1376.4,950.7 L1378.4,950.7 L1380.4,950.7 L1382.5,950.7 L1384.5,950.7 L1386.5,950.7 L1388.5,950.7 L1390.5,950.7 L1392.5,950.7 L1394.5,950.7 L1396.5,950.7 L1398.5,950.7 L1400.5,950.7 L1402.5,950.7 L1404.5,950.7 L1406.5,950.8 L1408.5,950.8 L1410.5,950.8 L1412.6,950.8 L1414.6,950.8 L1416.6,950.8 L1418.6,950.8 L1420.6,950.8 L1422.6,950.8 L1424.6,950.8 L1426.6,950.8 L1428.6,950.8 L1430.6,950.8 L1432.6,950.9 L1434.7,950.9 L1436.7,950.9 L1438.7,950.9 L1440.7,950.9 L1442.7,950.9 L1444.7,950.9 L1446.7,950.9 L1448.7,950.9 L1450.8,951.0 L1452.8,951.0 L1454.8,951.0 L1456.8,951.0 L1458.8,951.0 L1460.8,951.0 L1462.8,951.1 L1464.8,951.1 L1466.9,951.1 L1468.9,951.1 L1470.9,951.2 L1472.9,951.2 L1474.9,951.2 L1476.9,951.3 L1478.9,951.3 L1480.9,951.4 L1483.0,951.4 L1485.0,951.5 L1487.0,951.5 L1489.0,951.6 L1491.0,951.6 L1493.0,951.7 L1495.0,951.8 L1497.0,951.8 L1499.1,951.9 L1501.1,952.0 L1503.1,952.1 L1505.1,952.2 L1507.1,952.3 L1509.1,952.4 L1511.1,952.5 L1513.1,952.6 L1515.1,952.7 L1517.1,952.8 L1519.1,953.0 L1521.2,953.1 L1523.2,953.2 L1525.2,953.4 L1527.2,953.5 L1529.2,953.7 L1531.2,953.9 L1533.2,954.0 L1535.2,954.2 L1537.2,954.4 L1539.2,954.6 L1541.2,954.8 L1543.2,955.0 L1545.2,955.2 L1547.2,955.5 L1549.2,955.7 L1551.2,955.9 L1553.2,956.2 L1555.2,956.4 L1557.2,956.7 L1559.2,957.0 L1561.2,957.3 L1563.2,957.6 L1565.2,957.9 L1567.2,958.2 L1569.2,958.5 L1571.1,958.8 L1573.1,959.2 L1575.1,959.5 L1577.1,959.9 L1579.0,960.3 L1581.0,960.7 L1583.0,961.1 L1584.9,961.6 L1586.9,962.0 L1588.8,962.5 L1590.8,963.0 L1592.7,963.5 L1594.6,964.0 L1596.5,964.6 L1598.4,965.1 L1600.3,965.7 L1602.2,966.3 L1604.1,967.0 L1605.9,967.6 L1607.8,968.3 L1609.6,969.0 L1611.4,969.8 L1613.2,970.5 L1615.0,971.3 L1616.8,972.1 L1618.6,973.0 L1620.4,973.8 L1622.1,974.7 L1623.8,975.7 L1625.5,976.6 L1627.2,977.6 L1628.9,978.6 L1630.6,979.7 L1632.2,980.8 L1633.9,981.9 L1635.5,983.1 L1637.1,984.3 L1638.6,985.5 L1640.2,986.7 L1641.7,988.0 L1643.3,989.3 L1644.8,990.6 L1646.3,992.0 L1647.7,993.4 L1649.2,994.8 L1650.6,996.2 L1652.0,997.6 L1653.4,999.1 L1654.8,1000.6 L1656.1,1002.1 L1657.5,1003.7 L1658.8,1005.2 L1660.1,1006.8 L1661.4,1008.4 L1662.6,1010.0 L1663.9,1011.6 L1665.1,1013.3 L1666.3,1015.0 L1667.4,1016.6 L1668.6,1018.3 L1669.7,1020.0 L1670.8,1021.7 L1671.9,1023.5 L1673.0,1025.2 L1674.1,1027.0 L1675.1,1028.7 L1676.1,1030.5 L1677.1,1032.3 L1678.0,1034.1 L1679.0,1035.9 L1679.9,1037.7 L1680.8,1039.5 L1681.7,1041.3 L1682.5,1043.1 L1683.4,1045.0 L1684.2,1046.8 L1685.0,1048.6 L1685.7,1050.5 L1686.5,1052.3 L1687.2,1054.2 L1688.0,1056.1 L1688.7,1057.9 L1689.3,1059.8 L1690.0,1061.7 L1690.7,1063.6 L1691.3,1065.5 L1691.9,1067.3 L1692.5,1069.2 L1693.1,1071.1 L1693.7,1073.1 L1694.3,1075.0 L1694.8,1076.9 L1695.3,1078.8 L1695.9,1080.7 L1696.4,1082.6 L1696.9,1084.6 L1697.4,1086.5 L1697.8,1088.4 L1698.3,1090.4 L1698.8,1092.3 L1699.2,1094.3 L1699.6,1096.2 L1700.1,1098.2 L1700.5,1100.1 L1700.9,1102.1 L1701.3,1104.0 L1701.7,1106.0 L1702.1,1108.0 L1702.4,1109.9 L1702.8,1111.9 L1703.2,1113.9 L1703.5,1115.8 L1703.9,1117.8 L1704.2,1119.8 L1704.6,1121.7 L1704.9,1123.7 L1705.2,1125.7 L1705.6,1127.7 L1705.9,1129.6 L1706.2,1131.6 L1706.6,1133.6 L1706.9,1135.6 L1707.2,1137.6 L1707.5,1139.5 L1707.8,1141.5 L1708.2,1143.5 L1708.5,1145.5 L1708.8,1147.5 L1709.1,1149.4 L1709.4,1151.4 L1709.7,1153.4 L1710.0,1155.4 L1710.3,1157.4 L1710.6,1159.4 L1710.9,1161.4 L1711.2,1163.3 L1711.5,1165.3 L1711.8,1167.3 L1712.1,1169.3 L1712.4,1171.3 L1712.6,1173.3 L1712.9,1175.3 L1713.2,1177.2 L1713.5,1179.2 L1713.8,1181.2 L1714.0,1183.2 L1714.3,1185.2 L1714.6,1187.2 L1714.8,1189.2 L1715.1,1191.2 L1715.3,1193.2 L1715.6,1195.1 L1715.9,1197.1 L1716.1,1199.1 L1716.3,1201.1 L1716.6,1203.1 L1716.8,1205.1 L1717.1,1207.1 L1717.3,1209.1 L1717.5,1211.1 L1717.8,1213.1 L1718.0,1215.1 L1718.2,1217.1 L1718.5,1219.1 L1718.7,1221.1 L1718.9,1223.0 L1719.1,1225.0 L1719.3,1227.0 L1719.5,1229.0 L1719.7,1231.0 L1719.9,1233.0 L1720.1,1235.0 L1720.3,1237.0 L1720.5,1239.0 L1720.7,1241.0 L1720.9,1243.0 L1721.1,1245.0 L1721.2,1247.0 L1721.4,1249.0 L1721.6,1251.0 L1721.8,1253.0 L1721.9,1255.0 L1722.1,1257.0 L1722.3,1259.0 L1722.4,1261.0 L1722.6,1263.0 L1722.7,1265.0 L1722.9,1267.0 L1723.0,1269.0 L1723.1,1271.0 L1723.3,1273.0 L1723.4,1275.0 L1723.5,1277.0 L1723.7,1279.0 L1723.8,1281.0 L1723.9,1283.0 L1724.0,1285.0 L1724.1,1287.0 L1724.2,1289.0 L1724.3,1291.0 L1724.4,1293.0 L1724.5,1295.0 L1724.6,1297.0 L1724.7,1299.0 L1724.8,1301.0 L1724.9,1303.0 L1724.9,1305.0 L1725.0,1307.0 L1725.1,1309.0" fill="none" stroke="#ff0000" stroke-width="9" stroke-linejoin="round" stroke-linecap="butt"/>
<text transform="translate(65.50,1872.50) scale(0.985,1)" font-size="122" font-weight="bold" fill="#000">(b)</text>
<rect x="448.7" y="1894.8" width="1572.3" height="1265.3" fill="none" stroke="#000" stroke-width="4.5"/>
<line x1="448.7" y1="3096.9" x2="423.2" y2="3096.9" stroke="#000" stroke-width="4.2"/>
<text transform="translate(405.30,3127.80) scale(0.98,1)" font-size="109.5" font-weight="bold" text-anchor="end" fill="#000">300</text>
<line x1="448.7" y1="2907.2" x2="423.2" y2="2907.2" stroke="#000" stroke-width="4.2"/>
<text transform="translate(405.30,2938.13) scale(0.98,1)" font-size="109.5" font-weight="bold" text-anchor="end" fill="#000">600</text>
<line x1="448.7" y1="2717.6" x2="423.2" y2="2717.6" stroke="#000" stroke-width="4.2"/>
<text transform="translate(405.30,2748.47) scale(0.98,1)" font-size="109.5" font-weight="bold" text-anchor="end" fill="#000">900</text>
<line x1="448.7" y1="2527.9" x2="423.2" y2="2527.9" stroke="#000" stroke-width="4.2"/>
<text transform="translate(405.30,2558.80) scale(0.98,1)" font-size="109.5" font-weight="bold" text-anchor="end" fill="#000">1200</text>
<line x1="448.7" y1="2338.2" x2="423.2" y2="2338.2" stroke="#000" stroke-width="4.2"/>
<text transform="translate(405.30,2369.14) scale(0.98,1)" font-size="109.5" font-weight="bold" text-anchor="end" fill="#000">1500</text>
<line x1="448.7" y1="2148.6" x2="423.2" y2="2148.6" stroke="#000" stroke-width="4.2"/>
<text transform="translate(405.30,2179.47) scale(0.98,1)" font-size="109.5" font-weight="bold" text-anchor="end" fill="#000">1800</text>
<line x1="448.7" y1="1958.9" x2="423.2" y2="1958.9" stroke="#000" stroke-width="4.2"/>
<text transform="translate(405.30,1989.80) scale(0.98,1)" font-size="109.5" font-weight="bold" text-anchor="end" fill="#000">2100</text>
<line x1="448.7" y1="3002.1" x2="436.2" y2="3002.1" stroke="#000" stroke-width="4.2"/>
<line x1="448.7" y1="2812.4" x2="436.2" y2="2812.4" stroke="#000" stroke-width="4.2"/>
<line x1="448.7" y1="2622.7" x2="436.2" y2="2622.7" stroke="#000" stroke-width="4.2"/>
<line x1="448.7" y1="2433.1" x2="436.2" y2="2433.1" stroke="#000" stroke-width="4.2"/>
<line x1="448.7" y1="2243.4" x2="436.2" y2="2243.4" stroke="#000" stroke-width="4.2"/>
<line x1="448.7" y1="2053.7" x2="436.2" y2="2053.7" stroke="#000" stroke-width="4.2"/>
<line x1="448.9" y1="3160.1" x2="448.9" y2="3172.1" stroke="#000" stroke-width="4.2"/>
<line x1="591.8" y1="3160.1" x2="591.8" y2="3184.6" stroke="#000" stroke-width="4.2"/>
<text transform="translate(591.80,3285.70) scale(0.96,1)" font-size="112" font-weight="bold" text-anchor="middle" fill="#000">0</text>
<line x1="734.7" y1="3160.1" x2="734.7" y2="3172.1" stroke="#000" stroke-width="4.2"/>
<line x1="877.6" y1="3160.1" x2="877.6" y2="3184.6" stroke="#000" stroke-width="4.2"/>
<text transform="translate(877.65,3285.70) scale(0.96,1)" font-size="112" font-weight="bold" text-anchor="middle" fill="#000">5</text>
<line x1="1020.6" y1="3160.1" x2="1020.6" y2="3172.1" stroke="#000" stroke-width="4.2"/>
<line x1="1163.5" y1="3160.1" x2="1163.5" y2="3184.6" stroke="#000" stroke-width="4.2"/>
<text transform="translate(1163.50,3285.70) scale(0.96,1)" font-size="112" font-weight="bold" text-anchor="middle" fill="#000">10</text>
<line x1="1306.4" y1="3160.1" x2="1306.4" y2="3172.1" stroke="#000" stroke-width="4.2"/>
<line x1="1449.3" y1="3160.1" x2="1449.3" y2="3184.6" stroke="#000" stroke-width="4.2"/>
<text transform="translate(1449.35,3285.70) scale(0.96,1)" font-size="112" font-weight="bold" text-anchor="middle" fill="#000">15</text>
<line x1="1592.3" y1="3160.1" x2="1592.3" y2="3172.1" stroke="#000" stroke-width="4.2"/>
<line x1="1735.2" y1="3160.1" x2="1735.2" y2="3184.6" stroke="#000" stroke-width="4.2"/>
<text transform="translate(1735.20,3285.70) scale(0.96,1)" font-size="112" font-weight="bold" text-anchor="middle" fill="#000">20</text>
<line x1="1878.1" y1="3160.1" x2="1878.1" y2="3172.1" stroke="#000" stroke-width="4.2"/>
<line x1="2021.0" y1="3160.1" x2="2021.0" y2="3184.6" stroke="#000" stroke-width="4.2"/>
<text transform="translate(2021.05,3285.70) scale(0.96,1)" font-size="112" font-weight="bold" text-anchor="middle" fill="#000">25</text>
<text transform="translate(981.60,3392.60) scale(1.058,1)" font-size="132.4" font-weight="normal" fill="#000" stroke="#000" stroke-width="1.5">ε</text>
<text transform="translate(1040.60,3421.80) scale(0.949,1)" font-size="92" font-weight="bold" fill="#000">UTS</text>
<text transform="translate(1234.90,3394.00) scale(0.966,1)" font-size="111" font-weight="bold" fill="#000">(%)</text>
<text transform="translate(141.30,2779.60) rotate(-90) scale(1.274,1)" font-size="117.2" font-weight="normal" fill="#000" stroke="#000" stroke-width="2">σ</text>
<text transform="translate(184.50,2699.40) rotate(-90) scale(0.949,1)" font-size="92" font-weight="bold" fill="#000">UTS</text>
<text transform="translate(141.20,2504.00) rotate(-90) scale(0.95,1)" font-size="110" font-weight="bold" fill="#000">(MPa)</text>
<polygon points="1889.0,3023.1 1913.8,3065.5 1864.2,3065.5" fill="#0072e4"/>
<circle cx="917.7" cy="2779.7" r="20.7" fill="#fb3c3c"/>
<rect x="706.0" y="2304.8" width="27.5" height="27.5" fill="#525252"/>
<polygon points="706.6,2408.8 744.6,2408.8 725.6,2440.4" fill="#00aa66"/>
<polygon points="915.1,2515.8 953.1,2515.8 934.1,2547.5" fill="#00aa66"/>
<polygon points="605.9,2608.1 643.9,2608.1 624.9,2639.8" fill="#00aa66"/>
<polygon points="600.3,2662.8 638.2,2662.8 619.3,2694.5" fill="#00aa66"/>
<polygon points="587.0,2717.5 625.0,2717.5 606.0,2749.2" fill="#00aa66"/>
<polygon points="584.3,2857.1 622.2,2857.1 603.3,2888.8" fill="#00aa66"/>
<polygon points="705.9,2255.5 725.4,2275.0 705.9,2294.5 686.4,2275.0" fill="#c47ae0"/>
<polygon points="820.5,2255.5 840.0,2275.0 820.5,2294.5 801.0,2275.0" fill="#c47ae0"/>
<polygon points="780.6,2330.8 800.1,2350.3 780.6,2369.8 761.1,2350.3" fill="#c47ae0"/>
<polygon points="763.0,2685.4 782.5,2704.9 763.0,2724.4 743.5,2704.9" fill="#c47ae0"/>
<polygon points="799.0,1996.0 832.0,1978.0 832.0,2014.0" fill="#dc9a00"/>
<polygon points="887.2,2242.2 854.2,2222.9 854.2,2261.4" fill="#00cccc"/>
<polygon points="779.6,2463.8 746.6,2444.6 746.6,2483.1" fill="#00cccc"/>
<polygon points="734.0,2320.3 749.4,2329.2 749.4,2347.0 734.0,2355.9 718.6,2347.0 718.6,2329.2" fill="#8c4b4b"/>
<polygon points="654.0,2433.5 669.4,2442.4 669.4,2460.2 654.0,2469.1 638.6,2460.2 638.6,2442.4" fill="#8c4b4b"/>
<polygon points="728.1,2446.8 733.1,2458.0 745.2,2459.2 736.1,2467.4 738.7,2479.4 728.1,2473.3 717.5,2479.4 720.1,2467.4 711.0,2459.2 723.1,2458.0" fill="#929200"/>
<polygon points="854.5,2455.3 859.5,2466.5 871.6,2467.7 862.5,2475.9 865.1,2487.9 854.5,2481.8 843.9,2487.9 846.5,2475.9 837.4,2467.7 849.5,2466.5" fill="#929200"/>
<polygon points="659.6,2572.8 664.6,2584.0 676.7,2585.2 667.6,2593.4 670.2,2605.4 659.6,2599.3 649.0,2605.4 651.6,2593.4 642.5,2585.2 654.6,2584.0" fill="#929200"/>
<polygon points="780.3,2424.2 797.4,2436.6 790.9,2456.8 769.7,2456.8 763.2,2436.6" fill="#ff6400"/>
<polygon points="728.9,2579.2 746.0,2591.6 739.5,2611.8 718.3,2611.8 711.8,2591.6" fill="#ff6400"/>
<circle cx="762.8" cy="2505.7" r="16" fill="url(#sphere)"/>
<polygon points="1101.4,1918.2 1126.3,1959.8 1076.5,1959.8" fill="#0072e4"/>
<circle cx="1100.4" cy="2036.6" r="20.7" fill="#fb3c3c"/>
<text transform="translate(1177.00,1968.30) scale(0.947,1)" font-size="75" font-weight="bold" fill="#000">Coarse grained nickel</text>
<text transform="translate(1179.60,2057.80) scale(0.943,1)" font-size="75" font-weight="bold" fill="#000">Bulk nanostructured nickel</text>
<text transform="translate(1811.30,2148.50) scale(0.944,1)" font-size="75" font-weight="bold" fill="#000">Ref.32</text>
<text transform="translate(1811.30,2239.30) scale(0.944,1)" font-size="75" font-weight="bold" fill="#000">Ref.33</text>
<text transform="translate(1811.30,2331.00) scale(0.944,1)" font-size="75" font-weight="bold" fill="#000">Ref.34</text>
<text transform="translate(1811.30,2421.50) scale(0.944,1)" font-size="75" font-weight="bold" fill="#000">Ref.30</text>
<text transform="translate(1811.30,2513.40) scale(0.944,1)" font-size="75" font-weight="bold" fill="#000">Ref.35</text>
<text transform="translate(1811.30,2603.90) scale(0.944,1)" font-size="75" font-weight="bold" fill="#000">Ref.36</text>
<text transform="translate(1811.30,2694.40) scale(0.944,1)" font-size="75" font-weight="bold" fill="#000">Ref.37</text>
<text transform="translate(1811.30,2784.90) scale(0.944,1)" font-size="75" font-weight="bold" fill="#000">Ref.38</text>
<text transform="translate(1811.30,2875.40) scale(0.944,1)" font-size="75" font-weight="bold" fill="#000">Ref.39</text>
<rect x="1718.8" y="2112.9" width="29" height="29" fill="#525252"/>
<polygon points="1714.8,2206.9 1751.8,2206.9 1733.3,2239.3" fill="#00aa66"/>
<polygon points="1733.3,2289.0 1753.3,2309.0 1733.3,2329.0 1713.3,2309.0" fill="#c47ae0"/>
<polygon points="1712.8,2399.5 1745.2,2380.9 1745.2,2418.1" fill="#dc9a00"/>
<polygon points="1754.5,2490.8 1720.9,2471.7 1720.9,2510.0" fill="#00cccc"/>
<polygon points="1733.3,2563.3 1748.9,2572.3 1748.9,2590.3 1733.3,2599.3 1717.7,2590.3 1717.7,2572.3" fill="#8c4b4b"/>
<polygon points="1733.3,2654.0 1738.3,2665.2 1750.4,2666.4 1741.3,2674.6 1743.9,2686.6 1733.3,2680.5 1722.7,2686.6 1725.3,2674.6 1716.2,2666.4 1728.3,2665.2" fill="#929200"/>
<polygon points="1733.3,2744.3 1750.7,2756.9 1744.1,2777.4 1722.5,2777.4 1715.9,2756.9" fill="#ff6400"/>
<circle cx="1733.3" cy="2852.8" r="15.7" fill="url(#sphere)"/>
</svg>
</body></html>
